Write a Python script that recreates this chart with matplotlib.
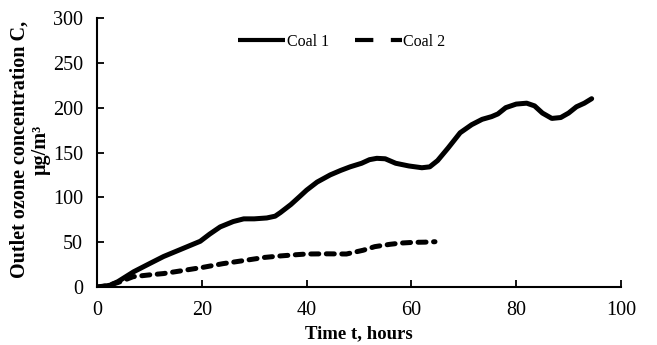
import matplotlib
matplotlib.use("Agg")
import matplotlib.pyplot as plt
from matplotlib.lines import Line2D

# Data
t_coal1 = [0, 1, 2.5, 4, 7, 10, 12.7, 16, 19.7, 21.5, 23.5, 26, 28, 30, 32.4, 34, 35, 37, 38.7, 40, 42, 44.5, 46.5, 48.3, 50.5, 52, 53.4, 55, 57, 59.5, 62, 63.5, 65, 67, 69.3, 71.5, 73.5, 75.3, 76.5, 78, 80, 82, 83.5, 85, 86.8, 88.5, 90, 91.5, 93, 94.4]
c_coal1 = [0, 0.5, 2, 6, 17, 26, 34, 42, 51, 59, 67, 73, 76, 76, 77, 79, 83, 92, 101, 108, 117, 125, 130, 134, 138, 142, 143.5, 143, 138, 135, 133, 134, 141, 155, 172, 181, 187, 190, 193, 200, 204, 205, 202, 194, 188, 189, 194, 201, 205, 210]

t_coal2 = [0, 2, 4, 6.9, 10, 12.7, 16, 20.3, 24, 28.6, 32, 34.9, 38, 40, 44, 47.6, 50.8, 53, 55.9, 58, 60.4, 62.5, 64.5]
c_coal2 = [0, 1.5, 5, 11.5, 13.5, 15, 18, 22, 26, 30, 33, 34.6, 36, 36.8, 37, 36.8, 41, 45, 47.6, 49, 49.8, 50, 50.5]

x_ticks = [0, 20, 40, 60, 80, 100]
y_ticks = [0, 50, 100, 150, 200, 250, 300]

plt.rcParams['font.family'] = ['Liberation Serif', 'DejaVu Serif']

fig = plt.figure(figsize=(6.57, 3.45), dpi=100)
ax = fig.add_axes([97/657, 1 - 287/345, (621-97)/657, (287-18)/345])

lw = 3.6
ax.plot(t_coal1, c_coal1, color='black', lw=lw, solid_capstyle='round', solid_joinstyle='round')
ax.plot(t_coal2, c_coal2, color='black', lw=lw, linestyle=(0, (1.6, 1.5)), dash_capstyle='round', dash_joinstyle='round')

ax.set_xlim(0, 100)
ax.set_ylim(0, 300)
ax.set_xticks(x_ticks)
ax.set_yticks(y_ticks)
ax.tick_params(direction='in', length=5, width=1.3, labelsize=14.5)
ax.tick_params(axis='y', pad=10)
ax.tick_params(axis='x', pad=10)
for s in ['top', 'right']:
    ax.spines[s].set_visible(False)
for s in ['left', 'bottom']:
    ax.spines[s].set_linewidth(1.5)

fig.text(359/657, 1 - 334/345, 'Time t, hours', ha='center', va='center', fontsize=13.5, fontweight='bold')
fig.text(20/657, 1 - 149/345, 'Outlet ozone concentration C,', ha='center', va='center',
         rotation=90, fontsize=14.5, fontweight='bold')
fig.text(41/657, 1 - 150/345, 'μg/m³', ha='center', va='center',
         rotation=90, fontsize=14.5, fontweight='bold')

handles = [
    Line2D([], [], color='black', lw=3.0, solid_capstyle='butt'),
    Line2D([], [], color='black', lw=3.0, linestyle=(0, (4.4, 4.2)), dash_capstyle='butt'),
]
leg = fig.legend(handles, ['Coal 1', 'Coal 2'], loc='center left', bbox_to_anchor=(238/657, 1 - 42/345),
                 ncol=2, frameon=False, fontsize=11.5, handlelength=2.94, handletextpad=0.12,
                 columnspacing=1.6, borderpad=0, borderaxespad=0)

fig.savefig('out.png', dpi=100)
